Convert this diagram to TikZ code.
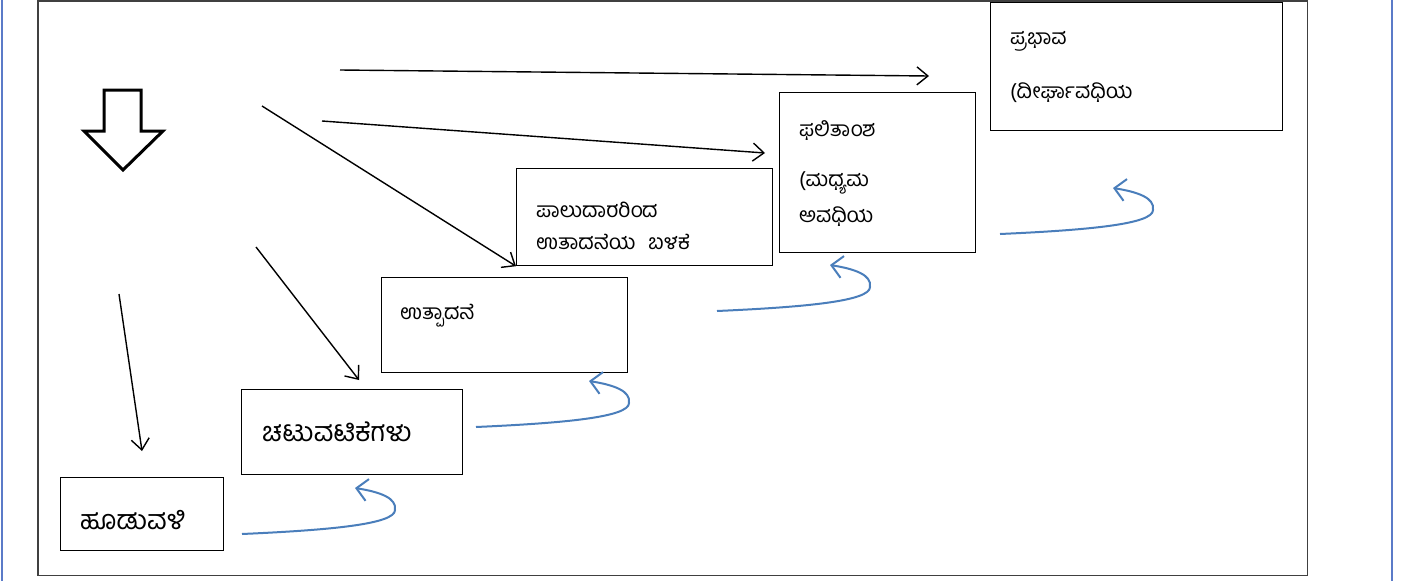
\documentclass[tikz,border=0pt]{standalone}
\usepackage{fontspec}
\newfontfamily\kan[Script=Kannada]{Hind Mysuru}
\usetikzlibrary{arrows.meta}
\definecolor{frameGray}{HTML}{404040}
\definecolor{sideBlue}{HTML}{5B7BC8}
\definecolor{curveBlue}{HTML}{4A7EBB}
\tikzset{
  box/.style={draw=black, line width=1.2pt, fill=white, rectangle, inner sep=0pt, anchor=north west},
  txt/.style={anchor=west, inner sep=0pt, font=\kan\fontsize{21}{24}\selectfont},
  bigtxt/.style={anchor=west, inner sep=0pt, font=\kan\fontsize{27}{30}\selectfont},
  blk/.style={draw=black, line width=1.4pt, -{Straight Barb[length=11pt,width=18pt,line width=1.4pt]}},
  loop/.style={draw=curveBlue, line width=2pt, -{Straight Barb[length=11pt,width=22pt,line width=2pt]}},
}
\begin{document}
\begin{tikzpicture}[x=1pt,y=-1pt]
\useasboundingbox (0,0) rectangle (1408,581);
\fill[white] (0,0) rectangle (1408,581);
% side blue lines
\draw[sideBlue, line width=2.5pt] (2,0) -- (2,581);
\draw[sideBlue, line width=2.5pt] (1392,0) -- (1392,581);
% outer frame
\draw[frameGray, line width=1.6pt] (38,0.8) rectangle (1307.5,575.5);

% boxes
\node[box, minimum width=292pt, minimum height=128pt] (b6) at (990,2) {};
\node[box, minimum width=196pt, minimum height=160pt] (b5) at (779,92) {};
\node[box, minimum width=256pt, minimum height=97pt] (b4) at (516,168) {};
\node[box, minimum width=246pt, minimum height=95pt] (b3) at (381,277) {};
\node[box, minimum width=221pt, minimum height=85pt] (b2) at (241,389) {};
\node[box, minimum width=163pt, minimum height=73pt] (b1) at (60,477) {};

% texts
\node[txt] (t6a) at (1010,41) {ಪ್ರಭಾವ};
\node[txt] (t6b) at (1010,93) {(ದೀರ್ಘಾವಧಿಯ};
\node[txt] (t5a) at (799,131) {ಫಲಿತಾಂಶ};
\node[txt] (t5b) at (799,183) {(ಮಧ್ಯಮ};
\node[txt] (t5c) at (799,217) {ಅವಧಿಯ};
\node[txt] (t4a) at (536,210) {ಪಾಲುದಾರರಿಂದ};
\node[txt] (t4b) at (536,242) {ಉತಾದನೆಯ\hspace{0.6em}ಬಳಕೆ};
\node[txt] (t3a) at (400,316) {ಉತ್ಪಾದನೆ};
\node[bigtxt] (t2a) at (262,432) {ಚಟುವಟಿಕೆಗಳು};
\node[bigtxt] (t1a) at (80,520) {ಹೂಡುವಳಿ};

% big hollow arrow
\draw[black, line width=3pt, miter limit=10] (104,90) -- (141,90) -- (141,131) -- (163,131) -- (123,170) -- (84,131) -- (104,131) -- cycle;

% black arrows
\coordinate (s1) at (340,70);   \coordinate (e1) at (929,76);
\coordinate (s2) at (322,121);  \coordinate (e2) at (765,153);
\coordinate (s3) at (262,106);
\coordinate (s4) at (256,247);  \coordinate (e4) at (359,380);
\coordinate (s5) at (119,294);  \coordinate (e5) at (142,451);
\draw[blk] (s1) -- (e1);
\draw[blk] (s2) -- (e2);
\draw[blk] (s3) -- (b4.south west);
\draw[blk] (s4) -- (e4);
\draw[blk] (s5) -- (e5);

% blue curved arrows
\foreach \n/\sx/\sy in {1/242/534, 2/476/427, 3/717/311, 4/1000/234}{
  \coordinate (c\n) at (\sx,\sy);
  \draw[loop] (c\n) .. controls +(90,-4) and +(0,14) .. ++(153,-24) .. controls +(2,-12) and +(25,4) .. ++(-40,-22);
}
\end{tikzpicture}
\end{document}
